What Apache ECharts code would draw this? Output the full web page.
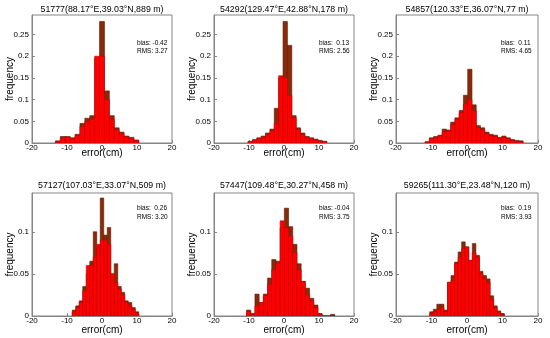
<!DOCTYPE html>
<html><head><meta charset="utf-8">
<script src="https://cdn.jsdelivr.net/npm/echarts@6/dist/echarts.min.js"></script>
<style>html,body{margin:0;padding:0;background:#fff}#c{width:550px;height:338px}</style>
</head><body><div id="c"></div><script>
// ---- data ----
const stationTitles = [
  '51777(88.17°E,39.03°N,889 m)',
  '54292(129.47°E,42.88°N,178 m)',
  '54857(120.33°E,36.07°N,77 m)',
  '57127(107.03°E,33.07°N,509 m)',
  '57447(109.48°E,30.27°N,458 m)',
  '59265(111.30°E,23.48°N,120 m)'
];
const biasLabels = ['bias: -0.42', 'bias:  0.13', 'bias:  0.11', 'bias:  0.26', 'bias: -0.04', 'bias:  0.19'];
const rmsLabels = ['RMS: 3.27', 'RMS: 2.56', 'RMS: 4.65', 'RMS: 3.20', 'RMS: 3.75', 'RMS: 3.93'];
const xTicks = [-20, -10, 0, 10, 20];
const yTicksTop = [0, 0.05, 0.1, 0.15, 0.2, 0.25];
const yTicksBottom = [0, 0.05, 0.1];

const p1Centers = [-12.6, -11.2, -9.8, -8.4, -7.0, -5.6, -4.2, -2.8, -1.4, 0, 1.4, 2.8, 4.2, 5.6, 7.0, 8.4, 9.8];
const p1Brown   = [0.005, 0.015, 0.015, 0.012, 0.020, 0.045, 0.057, 0.063, 0.195, 0.280, 0.120, 0.063, 0.035, 0.025, 0.016, 0.013, 0.007];
const p1Red     = [0.003, 0.012, 0.013, 0.010, 0.017, 0.038, 0.050, 0.055, 0.200, 0.200, 0.100, 0.055, 0.030, 0.022, 0.014, 0.011, 0.005];

const p2Centers = [-9.65, -8.4, -7.15, -5.9, -4.65, -3.4, -2.15, -0.9, 0.35, 1.6, 2.85, 4.1, 5.35, 6.6, 7.85, 9.1, 10.35, 11.6];
const p2Brown   = [0.004, 0.008, 0.012, 0.016, 0.023, 0.032, 0.080, 0.150, 0.280, 0.225, 0.063, 0.035, 0.023, 0.015, 0.012, 0.009, 0.006, 0.004];
const p2Red     = [0.003, 0.006, 0.010, 0.013, 0.020, 0.028, 0.045, 0.155, 0.150, 0.110, 0.058, 0.031, 0.020, 0.013, 0.010, 0.007, 0.004, 0.003];

const p3Centers = [-11.2, -10.0, -8.8, -7.6, -6.4, -5.2, -4.0, -2.8, -1.6, -0.4, 0.8, 2.0, 3.2, 4.4, 5.6, 6.8, 8.0, 9.2, 10.4, 11.6, 12.8, 14.0, 15.2];
const p3Brown   = [0.003, 0.012, 0.015, 0.018, 0.032, 0.030, 0.048, 0.058, 0.075, 0.110, 0.170, 0.088, 0.040, 0.035, 0.025, 0.020, 0.018, 0.013, 0.016, 0.012, 0.008, 0.006, 0.005];
const p3Red     = [0.002, 0.010, 0.013, 0.016, 0.026, 0.028, 0.042, 0.055, 0.070, 0.090, 0.100, 0.075, 0.035, 0.030, 0.022, 0.017, 0.015, 0.011, 0.013, 0.010, 0.006, 0.004, 0.003];

const p4Centers = [-8, -7, -6, -5, -4, -3, -2, -1, 0, 1, 2, 3, 4, 5, 6, 7, 8, 9, 10];
const p4Brown   = [0.007, 0.012, 0.018, 0.035, 0.050, 0.065, 0.100, 0.082, 0.140, 0.096, 0.105, 0.050, 0.062, 0.035, 0.028, 0.018, 0.016, 0.010, 0.005];
const p4Red     = [0.005, 0.010, 0.016, 0.030, 0.060, 0.060, 0.070, 0.085, 0.090, 0.090, 0.085, 0.050, 0.040, 0.032, 0.025, 0.016, 0.013, 0.008, 0.003];

const p5Centers = [-10.1, -8.9, -7.7, -6.5, -5.3, -4.1, -2.9, -1.7, -0.5, 0.7, 1.9, 3.1, 4.3, 5.5, 6.7, 7.9, 9.1, 10.3, 11.5, 12.7, 13.9];
const p5Brown   = [0.007, 0.003, 0.026, 0.016, 0.026, 0.045, 0.067, 0.065, 0.105, 0.128, 0.106, 0.085, 0.062, 0.041, 0.033, 0.021, 0.013, 0.003, 0, 0, 0.002];
const p5Red     = [0.005, 0.002, 0.012, 0.016, 0.024, 0.038, 0.055, 0.063, 0.113, 0.105, 0.095, 0.075, 0.055, 0.041, 0.025, 0.018, 0.010, 0.002, 0, 0, 0];

const p6Centers = [-10, -9, -8, -7, -6, -5, -4, -3, -2, -1, 0, 1, 2, 3, 4, 5, 6, 7, 8, 9, 10];
const p6Brown   = [0.005, 0.008, 0.014, 0.014, 0.007, 0.040, 0.048, 0.064, 0.076, 0.088, 0.082, 0.066, 0.086, 0.072, 0.053, 0.048, 0.044, 0.024, 0.012, 0.006, 0.003];
const p6Red     = [0.003, 0.005, 0.008, 0.010, 0.005, 0.040, 0.042, 0.062, 0.070, 0.080, 0.082, 0.066, 0.075, 0.070, 0.050, 0.044, 0.040, 0.020, 0.010, 0.004, 0.002];

const panels = [
  {c: p1Centers, b: p1Brown, r: p1Red},
  {c: p2Centers, b: p2Brown, r: p2Red},
  {c: p3Centers, b: p3Brown, r: p3Red},
  {c: p4Centers, b: p4Brown, r: p4Red},
  {c: p5Centers, b: p5Brown, r: p5Red},
  {c: p6Centers, b: p6Brown, r: p6Red}
];
const yMaxTop = 0.295, yMaxBottom = 0.146;

// ---- layout / style ----
const FONT = '"Liberation Sans", Arial, Helvetica, sans-serif';
const lefts = [32, 214, 396];
const widths = [140, 140, 142];
const rowTop = [15, 193];
const rowH = [128, 123];
const BROWN = '#8a2a08', RED = '#ff0000';
const AX = '#858585';

const grids = [], xAxes = [], yAxes = [], series = [], graphics = [];
for (let i = 0; i < 6; i++) {
  const row = Math.floor(i / 3), col = i % 3;
  grids.push({left: lefts[col], top: rowTop[row], width: widths[col], height: rowH[row],
    show: true, borderColor: AX, borderWidth: 1, backgroundColor: '#fff'});
  xAxes.push({gridIndex: i, type: 'value', min: xTicks[0], max: xTicks[xTicks.length - 1], interval: xTicks[1] - xTicks[0],
    name: 'error(cm)', nameLocation: 'middle', nameGap: row === 0 ? 5 : 9, nameMoveOverlap: false,
    nameTextStyle: {fontFamily: FONT, fontSize: 10, color: '#000'},
    axisLine: {show: true, onZero: false, lineStyle: {color: AX, width: 1}},
    axisTick: {show: true, inside: true, length: 3, lineStyle: {color: AX}},
    axisLabel: {fontFamily: FONT, fontSize: 8, color: '#000', margin: 1},
    splitLine: {show: false}});
  const yt = row === 0 ? yTicksTop : yTicksBottom;
  yAxes.push({gridIndex: i, type: 'value', min: 0, max: row === 0 ? yMaxTop : yMaxBottom, interval: yt[1] - yt[0],
    name: 'frequency', nameLocation: 'middle', nameGap: 17, nameMoveOverlap: false,
    nameTextStyle: {fontFamily: FONT, fontSize: 10, color: '#000'},
    axisLine: {show: true, onZero: false, lineStyle: {color: AX, width: 1}},
    axisTick: {show: true, inside: true, length: 3, lineStyle: {color: AX}},
    axisLabel: {fontFamily: FONT, fontSize: 8, color: '#000', margin: 3, showMaxLabel: false},
    splitLine: {show: false}});
  const p = panels[i];
  const w = p.c[1] - p.c[0];
  const mk = (vals, fill, stroke) => ({
    type: 'custom', xAxisIndex: i, yAxisIndex: i, clip: true, silent: true,
    data: p.c.map((c, j) => [c, vals[j]]),
    renderItem: function (params, api) {
      const c = api.value(0), v = api.value(1);
      const a = api.coord([c - w / 2, v]);
      const b = api.coord([c + w / 2, 0]);
      return {type: 'rect', shape: {x: a[0], y: a[1], width: b[0] - a[0], height: b[1] - a[1]},
        style: {fill: fill, stroke: stroke, lineWidth: 0.6}};
    }
  });
  series.push(mk(p.b, BROWN, '#5a1a04'));
  series.push(mk(p.r, RED, '#c80000'));
  const cx = lefts[col] + widths[col] / 2;
  graphics.push({type: 'text', x: cx, y: row === 0 ? 10 : 186,
    style: {text: stationTitles[i], fontFamily: FONT, fontSize: 8.8, fill: '#000', align: 'center', verticalAlign: 'middle'}});
  const tx = lefts[col] + 105;
  graphics.push({type: 'text', x: tx, y: row === 0 ? 43 : 208,
    style: {text: biasLabels[i], fontFamily: FONT, fontSize: 6.5, fill: '#000', align: 'left', verticalAlign: 'middle'}});
  graphics.push({type: 'text', x: tx, y: row === 0 ? 51.5 : 217,
    style: {text: rmsLabels[i], fontFamily: FONT, fontSize: 6.5, fill: '#000', align: 'left', verticalAlign: 'middle'}});
}

const chart = echarts.init(document.getElementById('c'), null, {renderer: 'canvas'});
chart.setOption({
  animation: false,
  backgroundColor: '#fff',
  grid: grids, xAxis: xAxes, yAxis: yAxes, series: series, graphic: graphics
});
</script></body></html>
